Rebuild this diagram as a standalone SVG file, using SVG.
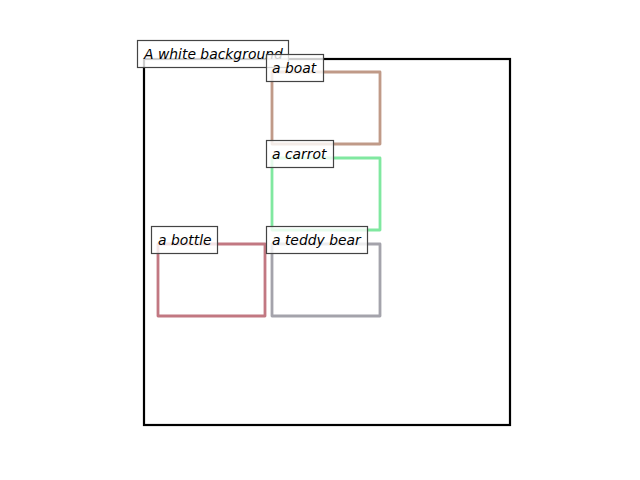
<svg xmlns="http://www.w3.org/2000/svg" width="640" height="480" viewBox="0 0 640 480">
<style>
.lbl{fill:#ffffff;fill-opacity:0.8;stroke:#444444;stroke-width:1.2}
.t{font-family:"DejaVu Sans",sans-serif;font-style:italic;font-size:13.9px;fill:#000000}
.obj{fill:none;stroke-width:2.8;stroke-linejoin:round}
</style>
<rect width="640" height="480" fill="#ffffff"/>
<g id="background">
<rect x="144" y="59" width="366" height="366" fill="none" stroke="#000000" stroke-width="2.2"/>
</g>
<g id="boat"><rect class="obj" x="272" y="72" width="108" height="72" stroke="#c09a88"/></g>
<g id="carrot"><rect class="obj" x="272" y="158" width="108" height="72" stroke="#80e8a0"/></g>
<g id="bottle"><rect class="obj" x="158" y="244" width="107" height="72" stroke="#c27882"/></g>
<g id="teddy"><rect class="obj" x="272" y="244" width="108" height="72" stroke="#a4a3ab"/></g>
<g id="labels">
<g id="label-background"><rect class="lbl" x="137.5" y="40.5" width="151" height="27"/><text class="t" x="144" y="58.5">A white background</text></g>
<g id="label-boat"><rect class="lbl" x="266.5" y="54.5" width="57" height="27"/><text class="t" x="272" y="72.5">a boat</text></g>
<g id="label-carrot"><rect class="lbl" x="266.5" y="140.5" width="67" height="27"/><text class="t" x="272" y="158.5">a carrot</text></g>
<g id="label-bottle"><rect class="lbl" x="151.5" y="226.5" width="66" height="27"/><text class="t" x="158" y="244.5">a bottle</text></g>
<g id="label-teddy"><rect class="lbl" x="266.5" y="226.5" width="101" height="27"/><text class="t" x="272" y="244.5">a teddy bear</text></g>
</g>
</svg>
